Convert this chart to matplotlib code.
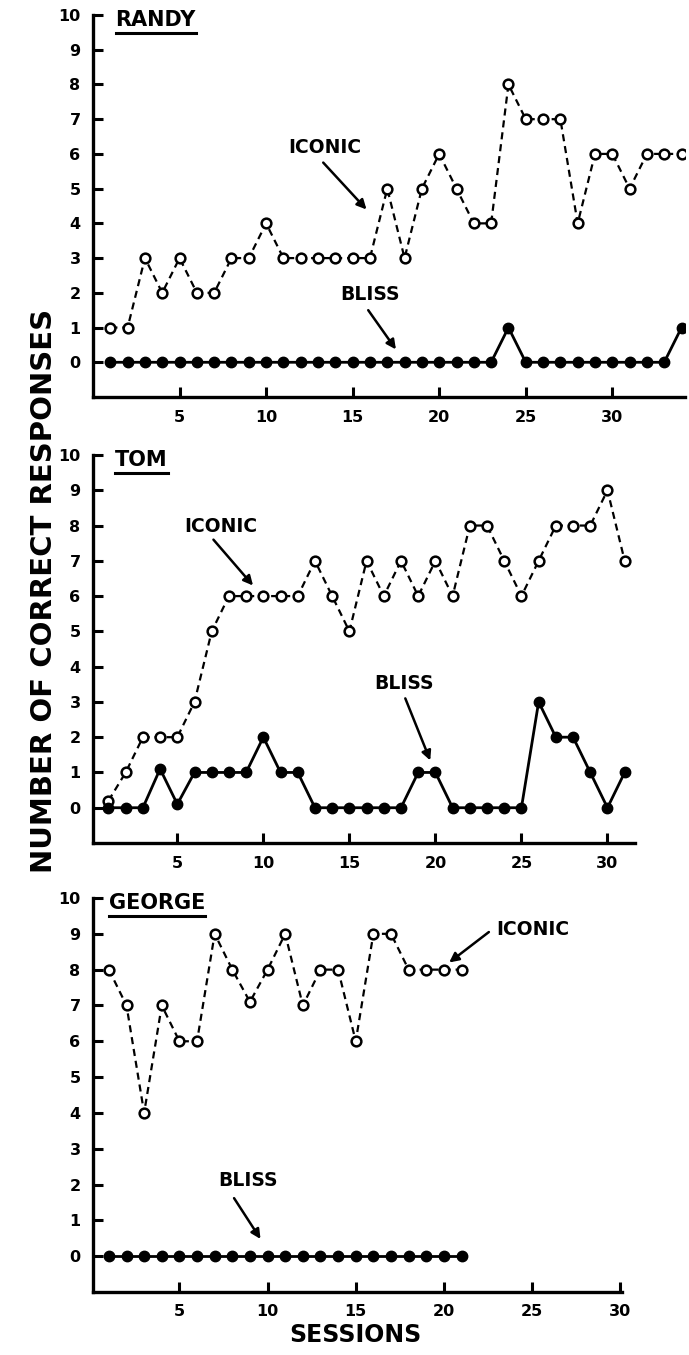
import matplotlib
matplotlib.use("Agg")
import matplotlib.pyplot as plt

# Datos (sesiones 1..n)
randy_iconic = [1, 1, 3, 2, 3, 2, 2, 3, 3, 4, 3, 3, 3, 3, 3, 3, 5, 3, 5, 6,
                5, 4, 4, 8, 7, 7, 7, 4, 6, 6, 5, 6, 6, 6]
randy_bliss = [0, 0, 0, 0, 0, 0, 0, 0, 0, 0, 0, 0, 0, 0, 0, 0, 0, 0, 0, 0,
               0, 0, 0, 1, 0, 0, 0, 0, 0, 0, 0, 0, 0, 1]

tom_iconic = [0.2, 1, 2, 2, 2, 3, 5, 6, 6, 6, 6, 6, 7, 6, 5, 7, 6, 7, 6, 7,
              6, 8, 8, 7, 6, 7, 8, 8, 8, 9, 7]
tom_bliss = [0, 0, 0, 1.1, 0.1, 1, 1, 1, 1, 2, 1, 1, 0, 0, 0, 0, 0, 0, 1, 1,
             0, 0, 0, 0, 0, 3, 2, 2, 1, 0, 1]

george_iconic = [8, 7, 4, 7, 6, 6, 9, 8, 7.1, 8, 9, 7, 8, 8, 6, 9, 9, 8, 8, 8, 8]
george_bliss = [0] * 21

y_ticks = list(range(0, 11))
x_ticks = [5, 10, 15, 20, 25, 30]

FONT = "DejaVu Sans"
plt.rcParams["font.family"] = [FONT]
plt.rcParams["font.weight"] = "bold"

fig = plt.figure(figsize=(6.89, 13.55), dpi=100)

W, H = 689.0, 1355.0


def box(x0, x1, ytop, ybot):
    return [x0 / W, 1 - ybot / H, (x1 - x0) / W, (ybot - ytop) / H]


paneles = [
    # nombre, iconic, bliss, caja, xlim, x del nombre, anotaciones (texto, pos, alineación, cola, punta)
    ("RANDY", randy_iconic, randy_bliss, box(93, 685, 15, 397), (0, 34.2), 1.3,
     [("ICONIC", (13.4, 6.18), "center", (13.3, 5.75), (15.8, 4.4)),
      ("BLISS", (16.0, 1.95), "center", (15.9, 1.5), (17.5, 0.37))]),
    ("TOM", tom_iconic, tom_bliss, box(93, 635, 455, 843), (0.1, 31.6), 1.4,
     [("ICONIC", (7.5, 7.98), "center", (7.1, 7.6), (9.4, 6.3)),
      ("BLISS", (18.2, 3.53), "center", (18.25, 3.1), (19.7, 1.34))]),
    ("GEORGE", george_iconic, george_bliss, box(93, 622, 898, 1292), (0.1, 30.1), 1.0,
     [("ICONIC", (22.95, 9.13), "left", (22.55, 9.05), (20.3, 8.2)),
      ("BLISS", (8.9, 2.1), "center", (8.1, 1.62), (9.6, 0.48))]),
]

ejes = []
for nombre, iconic, bliss, caja, xlim, xnom, notas in paneles:
    ax = fig.add_axes(caja)
    ses_i = list(range(1, len(iconic) + 1))
    ses_b = list(range(1, len(bliss) + 1))
    ax.plot(ses_i, iconic, ls=(0, (3.2, 2.2)), color="black", lw=1.6,
            marker="o", ms=7, mfc="white", mec="black", mew=1.8, zorder=3)
    ax.plot(ses_b, bliss, ls="-", color="black", lw=2.0,
            marker="o", ms=7.5, mfc="black", mec="black", zorder=4)

    ax.set_xlim(*xlim)
    ax.set_ylim(-1, 10)
    ax.set_yticks(y_ticks)
    ax.set_xticks(x_ticks)
    ax.tick_params(axis="both", direction="in", length=7, width=2.2,
                   labelsize=11.5, pad=9)
    for lab in ax.get_xticklabels() + ax.get_yticklabels():
        lab.set_fontweight("bold")
    ax.spines["top"].set_visible(False)
    ax.spines["right"].set_visible(False)
    ax.spines["left"].set_linewidth(2.4)
    ax.spines["bottom"].set_linewidth(2.4)
    ax.patch.set_visible(False)

    t = ax.text(xnom, 9.85, nombre, fontsize=15, fontweight="bold",
                ha="left", va="center")
    for texto, pos, alin, cola, punta in notas:
        ax.text(pos[0], pos[1], texto, fontsize=13.5, fontweight="bold",
                ha=alin, va="center")
        ax.annotate("", xy=punta, xytext=cola,
                    arrowprops=dict(arrowstyle="-|>", color="black", lw=1.8,
                                    mutation_scale=14, shrinkA=0, shrinkB=0))
    ejes.append((ax, t))

# subrayado de los nombres a partir de su extensión real
fig.canvas.draw()
renderer = fig.canvas.get_renderer()
for ax, t in ejes:
    bb = t.get_window_extent(renderer).transformed(ax.transAxes.inverted())
    ax.plot([bb.x0, bb.x1], [bb.y0 - 0.006, bb.y0 - 0.006], color="black",
            lw=2.2, transform=ax.transAxes, clip_on=False)

fig.text(44 / W, 1 - 591 / H, "NUMBER OF CORRECT RESPONSES", rotation=90,
         ha="center", va="center", fontsize=21, fontweight="bold")
fig.text(355 / W, 1 - 1335 / H, "SESSIONS", ha="center", va="center",
         fontsize=17, fontweight="bold")

fig.savefig("out.png", dpi=100)
